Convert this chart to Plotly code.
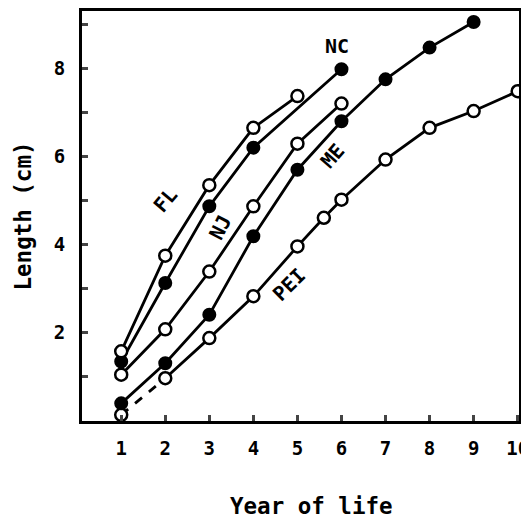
import plotly.graph_objects as go

# Data
fl_x = [1, 2, 3, 4, 5]
fl_y = [1.58, 3.75, 5.35, 6.65, 7.37]

nc_x = [1, 2, 3, 4, 6]
nc_y = [1.35, 3.13, 4.87, 6.2, 7.98]

nj_x = [1, 2, 3, 4, 5, 6]
nj_y = [1.05, 2.08, 3.39, 4.87, 6.29, 7.2]

me_x = [1, 2, 3, 4, 5, 6, 7, 8, 9]
me_y = [0.40, 1.31, 2.41, 4.19, 5.70, 6.80, 7.75, 8.47, 9.05]

pei_x = [1, 2, 3, 4, 5, 5.6, 6, 7, 8, 9, 10]
pei_y = [0.14, 0.97, 1.88, 2.83, 3.96, 4.61, 5.02, 5.93, 6.65, 7.03, 7.48]

labels = ["FL", "NC", "NJ", "ME", "PEI"]
label_x = [2.0, 5.9, 3.25, 5.8, 4.8]
label_y = [5.02, 8.5, 4.4, 6.0, 3.09]
label_angle = [-50, 0, -63, -49, -45]

x_ticks = list(range(1, 11))
y_ticks = list(range(1, 10))
y_ticktext = ["", "2", "", "4", "", "6", "", "8", ""]

x_title = "Year of life"
y_title = "Length (cm)"

FONT = "DejaVu Sans Mono"
LW = 2.8
MS = 12

def open_style():
    return dict(symbol="circle", size=MS, color="white", line=dict(color="black", width=2.5))

def filled_style():
    return dict(symbol="circle", size=MS, color="black", line=dict(color="black", width=2))

fig = go.Figure()

# PEI: first segment dashed, rest solid
fig.add_trace(go.Scatter(x=pei_x[:2], y=pei_y[:2], mode="lines",
                         line=dict(color="black", width=LW, dash="dash"), showlegend=False))
fig.add_trace(go.Scatter(x=pei_x[1:], y=pei_y[1:], mode="lines",
                         line=dict(color="black", width=LW), showlegend=False))
fig.add_trace(go.Scatter(x=pei_x, y=pei_y, mode="markers", marker=open_style(), showlegend=False))

for xs, ys, filled in [(me_x, me_y, True), (nj_x, nj_y, False), (nc_x, nc_y, True), (fl_x, fl_y, False)]:
    fig.add_trace(go.Scatter(x=xs, y=ys, mode="lines+markers",
                             line=dict(color="black", width=LW),
                             marker=filled_style() if filled else open_style(),
                             showlegend=False))

for t, x, y, a in zip(labels, label_x, label_y, label_angle):
    fig.add_annotation(x=x, y=y, text=t, showarrow=False, textangle=a,
                       font=dict(family=FONT, size=20, color="black", weight="bold"))

# x-axis title placed slightly right of centre, as in the reference
fig.add_annotation(x=0.526, y=-0.207, xref="paper", yref="paper", text=x_title,
                   showarrow=False, xanchor="center", yanchor="middle",
                   font=dict(family=FONT, size=22.5, color="black", weight="bold"))

fig.update_layout(
    width=521, height=518,
    margin=dict(l=82, r=2, t=11, b=97, autoexpand=False),
    paper_bgcolor="white", plot_bgcolor="white",
    font=dict(family=FONT, size=19, color="black", weight="bold"),
    xaxis=dict(range=[0.11, 10.03], tickvals=x_ticks, ticks="inside", ticklen=6, tickwidth=2.5,
               showline=True, linewidth=2.8, linecolor="black", mirror=True, showgrid=False,
               zeroline=False, ticklabelstandoff=8, automargin=False,
               ticklabeloverflow="allow"),
    yaxis=dict(range=[0, 9.3], tickvals=y_ticks, ticktext=y_ticktext, ticks="inside", ticklen=6,
               tickwidth=2.5, showline=True, linewidth=2.8, linecolor="black", mirror=True,
               showgrid=False, zeroline=False, ticklabelstandoff=10, automargin=False,
               title=dict(text=y_title, standoff=16, font=dict(size=22.5))),
)

fig.write_html("out.html", config={"displayModeBar": False},
               post_script="document.body.style.margin='0';document.body.style.overflow='hidden';")
